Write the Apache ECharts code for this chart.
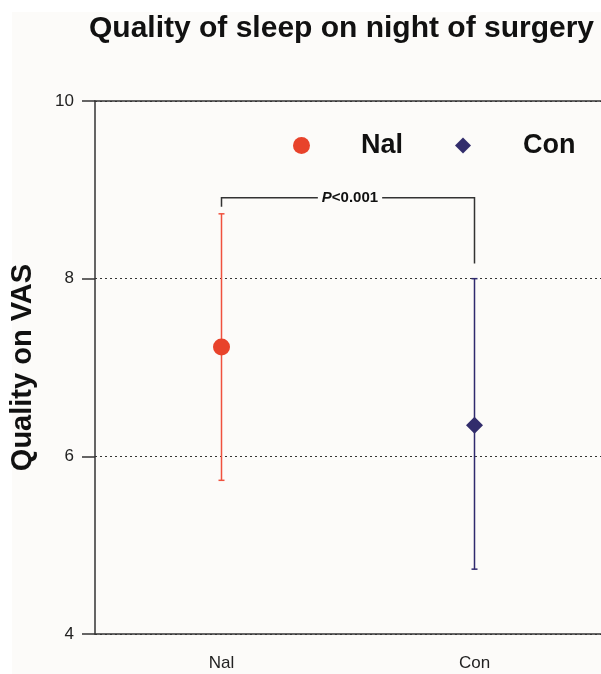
<!DOCTYPE html>
<html>
<head>
<meta charset="utf-8">
<script src="https://cdn.jsdelivr.net/npm/echarts@6/dist/echarts.min.js"></script>
<style>html,body{margin:0;padding:0;background:#fff;}#c{width:601px;height:674px;}</style>
</head>
<body>
<div id="c"></div>
<script>
// ---- data ----
const categories = ['Nal', 'Con'];
const means = [7.23, 6.35];
const upper = [8.73, 8.0];
const lower = [5.73, 4.73];
const yTicks = [4, 6, 8, 10];
const bracket = { from: 0, to: 1, top: 8.91, leftEnd: 8.81, rightEnd: 8.17, pText: 'P', restText: '<0.001' };
const titleText = 'Quality of sleep on night of surgery';
const yName = 'Quality on VAS';

const FONT = "'Liberation Sans', Arial, sans-serif";
const markColors = ['#e8432b', '#322d6c'];
const barColors = ['#f0513e', '#2f2a6e'];
const symbols = ['circle', 'diamond'];

const chart = echarts.init(document.getElementById('c'));

const errSeries = {
  type: 'custom',
  name: 'err',
  data: categories.map((c, i) => [i, lower[i], upper[i]]),
  renderItem: function (params, api) {
    const i = api.value(0);
    const lo = api.coord([i, api.value(1)]);
    const hi = api.coord([i, api.value(2)]);
    const cap = 3;
    const st = { stroke: barColors[i], lineWidth: 1.5, fill: null };
    return {
      type: 'group',
      children: [
        { type: 'line', shape: { x1: lo[0], y1: lo[1], x2: hi[0], y2: hi[1] }, style: st },
        { type: 'line', shape: { x1: lo[0] - cap, y1: lo[1], x2: lo[0] + cap, y2: lo[1] }, style: st },
        { type: 'line', shape: { x1: hi[0] - cap, y1: hi[1], x2: hi[0] + cap, y2: hi[1] }, style: st }
      ]
    };
  },
  z: 2,
  silent: true
};

const bracketSeries = {
  type: 'custom',
  name: 'bracket',
  data: [[bracket.from, bracket.to, bracket.top, bracket.leftEnd, bracket.rightEnd]],
  renderItem: function (params, api) {
    const a = api.coord([api.value(0), api.value(3)]);
    const aTop = api.coord([api.value(0), api.value(2)]);
    const b = api.coord([api.value(1), api.value(4)]);
    const bTop = api.coord([api.value(1), api.value(2)]);
    return {
      type: 'group',
      children: [
        { type: 'polyline', shape: { points: [a, aTop, bTop, b] }, style: { stroke: '#333', lineWidth: 1.5, fill: null } },
        {
          type: 'text',
          x: (aTop[0] + bTop[0]) / 2 + 2, y: aTop[1],
          style: {
            text: '{i|' + bracket.pText + '}{b|' + bracket.restText + '}',
            align: 'center', verticalAlign: 'middle',
            backgroundColor: '#fcfbf9', padding: [2, 4],
            rich: {
              i: { fontStyle: 'italic', fontWeight: 'bold', fontSize: 15, fontFamily: FONT, fill: '#111' },
              b: { fontWeight: 'bold', fontSize: 15, fontFamily: FONT, fill: '#111' }
            }
          }
        }
      ]
    };
  },
  z: 3,
  silent: true
};

const pointSeries = categories.map((c, i) => ({
  type: 'scatter',
  name: c,
  symbol: symbols[i],
  symbolSize: 17,
  itemStyle: { color: markColors[i], opacity: 1 },
  data: [[i, means[i]]],
  z: 5
}));

const option = {
  backgroundColor: '#fcfbf9',
  animation: false,
  textStyle: { fontFamily: FONT },
  title: {
    text: titleText, left: 84, top: 9,
    textStyle: { fontFamily: FONT, fontSize: 30, fontWeight: 'bold', color: '#111' }
  },
  graphic: [
    { type: 'rect', left: 0, top: 0, shape: { width: 601, height: 12 }, style: { fill: '#fff' }, z: -10 },
    { type: 'rect', left: 0, top: 0, shape: { width: 12, height: 674 }, style: { fill: '#fff' }, z: -10 }
  ],
  legend: [
    {
      data: [{ name: 'Nal', icon: 'circle' }], left: 288, top: 127, itemWidth: 17, itemHeight: 17,
      textStyle: { fontFamily: FONT, fontSize: 27, fontWeight: 'bold', color: '#111', padding: [0, 0, 0, 46] }
    },
    {
      data: [{ name: 'Con', icon: 'diamond' }], left: 450, top: 127, itemWidth: 16, itemHeight: 16,
      textStyle: { fontFamily: FONT, fontSize: 27, fontWeight: 'bold', color: '#111', padding: [0, 0, 0, 47] }
    }
  ],
  grid: { left: 93, right: 0, top: 101, bottom: 40, containLabel: false },
  xAxis: [
    {
      type: 'category', data: categories, boundaryGap: true,
      axisLine: { lineStyle: { color: '#333', width: 1.5 } },
      axisTick: { alignWithLabel: true, length: 13, lineStyle: { color: '#333', width: 1.5 } },
      axisLabel: { fontFamily: FONT, fontSize: 17, color: '#222', margin: 21 },
      splitLine: { show: false }
    },
    {
      type: 'category', data: categories, position: 'top',
      axisLine: { show: true, lineStyle: { color: '#333', width: 1.5 } },
      axisTick: { show: false }, axisLabel: { show: false }
    }
  ],
  yAxis: {
    type: 'value', min: yTicks[0], max: yTicks[yTicks.length - 1], interval: 2,
    name: yName, nameLocation: 'middle', nameGap: 58,
    nameTextStyle: { fontFamily: FONT, fontSize: 29, fontWeight: 'bold', color: '#111' },
    axisLine: { show: true, lineStyle: { color: '#333', width: 1.5 } },
    axisTick: { show: true, length: 13, lineStyle: { color: '#333', width: 1.5 } },
    axisLabel: { fontFamily: FONT, fontSize: 17, color: '#222', margin: 21 },
    splitLine: { show: true, lineStyle: { color: '#333', width: 1.2, type: [2, 3] } }
  },
  series: [errSeries, bracketSeries].concat(pointSeries)
};
chart.setOption(option);
</script>
</body>
</html>
